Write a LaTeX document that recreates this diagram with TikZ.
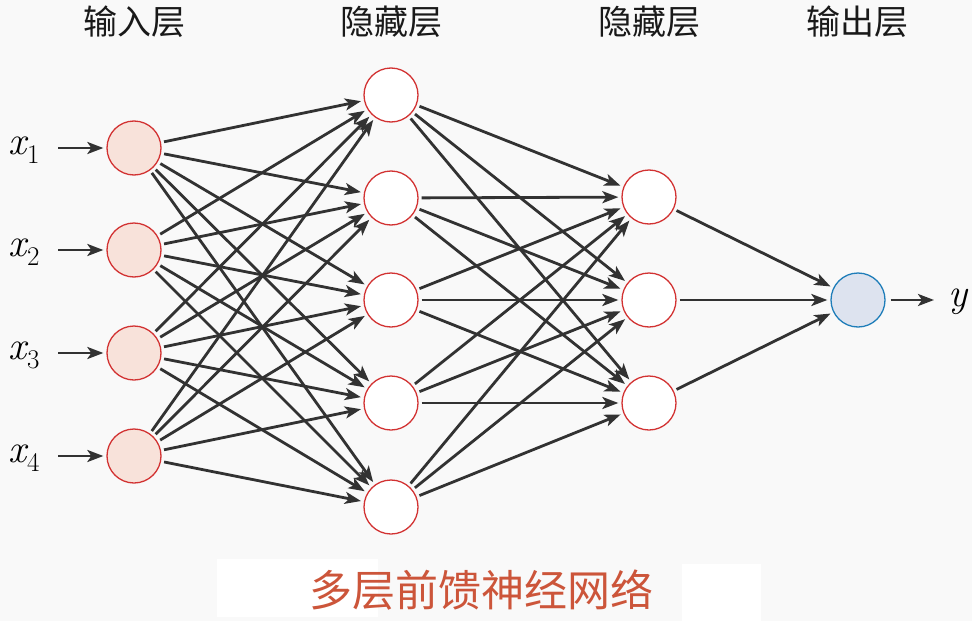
\documentclass[tikz,border=0pt]{standalone}
\usepackage{fontspec}
\newfontfamily\cjk{Noto Sans CJK SC}
\usetikzlibrary{arrows.meta}
\definecolor{bgc}{RGB}{249,249,249}
\definecolor{edgec}{RGB}{50,50,50}
\definecolor{redc}{RGB}{210,50,50}
\definecolor{infill}{RGB}{248,226,218}
\definecolor{outfill}{RGB}{221,227,239}
\definecolor{outdraw}{RGB}{30,125,185}
\definecolor{capc}{RGB}{204,85,58}
\newcommand{\xvar}[1]{{\itshape x}\kern1pt\raisebox{-9pt}{\fontsize{27}{30}\selectfont #1}}
\begin{document}
\begin{tikzpicture}[x=1pt,y=-1pt,
  neuron/.style={circle,draw=redc,line width=1.3pt,minimum size=54pt,inner sep=0pt},
  inneuron/.style={neuron,fill=infill},
  hidneuron/.style={neuron,fill=white},
  outneuron/.style={circle,draw=outdraw,line width=1.3pt,fill=outfill,minimum size=54pt,inner sep=0pt},
  conn/.style={draw=edgec,line width=2.8pt,-{Stealth[length=16pt,width=12pt,inset=4pt]},shorten >=3pt,shorten <=3pt},
  layerlabel/.style={font=\cjk\fontsize{34}{38}\selectfont,text=black!90},
  varlabel/.style={font=\fontsize{40}{44}\selectfont,inner sep=0pt}
]
\useasboundingbox (0,0) rectangle (972,621);
\fill[bgc] (0,0) rectangle (972,621);
\fill[white] (217,559) rectangle (378,617);
\fill[white] (682,564) rectangle (761,621);

% layer labels
\node[layerlabel] (L1) at (134,22) {输入层};
\node[layerlabel] (L2) at (391,22) {隐藏层};
\node[layerlabel] (L3) at (649,22) {隐藏层};
\node[layerlabel] (L4) at (857,22) {输出层};

% input
\foreach \i/\y in {1/148,2/250,3/353,4/456} {
  \node[inneuron] (I\i) at (134,\y) {};
  \node[varlabel,anchor=base west] (X\i) at (8,\y+6) {\xvar{\i}};
  \coordinate (XS\i) at (58,\y);
}
% hidden 1
\foreach \i/\y in {1/95,2/198,3/300,4/403,5/507} {
  \node[hidneuron] (H\i) at (391,\y) {};
}
% hidden 2
\foreach \i/\y in {1/197,2/300,3/403} {
  \node[hidneuron] (G\i) at (649,\y) {};
}
% output
\node[outneuron] (O) at (858,300) {};
\coordinate (YE) at (934,300);
\node[varlabel,anchor=base west] (Y) at (948,306) {\itshape y};

% connectors
\foreach \i in {1,...,4} {
  \draw[conn,shorten <=0pt] (XS\i) -- (I\i);
  \foreach \j in {1,...,5} { \draw[conn] (I\i) -- (H\j); }
}
\foreach \i in {1,...,5} {
  \foreach \j in {1,...,3} { \draw[conn] (H\i) -- (G\j); }
}
\foreach \i in {1,...,3} { \draw[conn] (G\i) -- (O); }
\draw[conn,shorten >=0pt,shorten <=5pt] (O) -- (YE);

% caption
\node[font=\cjk\fontsize{43}{47}\selectfont,text=capc] (CAP) at (481,590) {多层前馈神经网络};
\end{tikzpicture}
\end{document}
